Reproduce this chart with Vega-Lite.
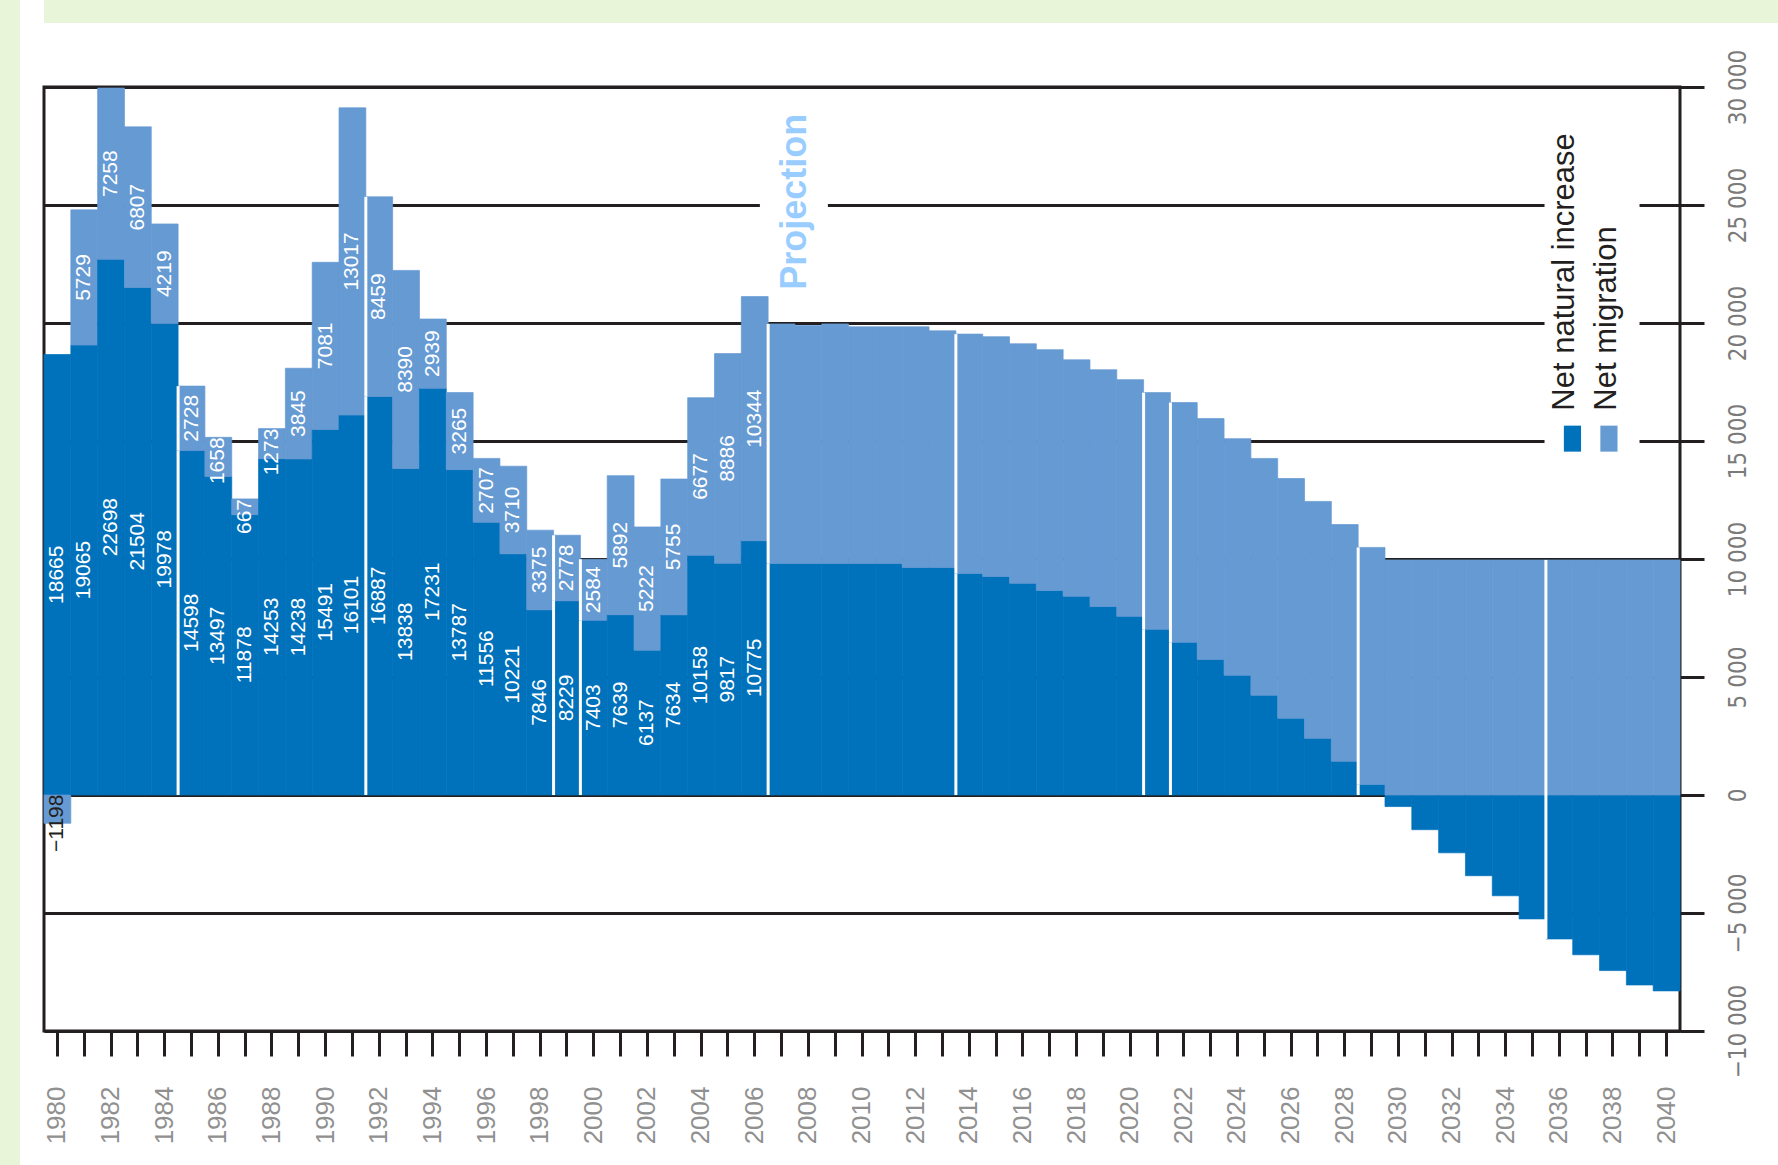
{
  "$schema": "https://vega.github.io/schema/vega-lite/v6.json",
  "background": "white",
  "padding": 0,
  "spacing": 24,
  "bounds": "flush",
  "datasets": {
    "pop": [
      {"year": 1980, "type": "natural", "value": 18665}, {"year": 1980, "type": "migration", "value": -1198},
      {"year": 1981, "type": "natural", "value": 19065}, {"year": 1981, "type": "migration", "value": 5729},
      {"year": 1982, "type": "natural", "value": 22698}, {"year": 1982, "type": "migration", "value": 7258},
      {"year": 1983, "type": "natural", "value": 21504}, {"year": 1983, "type": "migration", "value": 6807},
      {"year": 1984, "type": "natural", "value": 19978}, {"year": 1984, "type": "migration", "value": 4219},
      {"year": 1985, "type": "natural", "value": 14598}, {"year": 1985, "type": "migration", "value": 2728},
      {"year": 1986, "type": "natural", "value": 13497}, {"year": 1986, "type": "migration", "value": 1658},
      {"year": 1987, "type": "natural", "value": 11878}, {"year": 1987, "type": "migration", "value": 667},
      {"year": 1988, "type": "natural", "value": 14253}, {"year": 1988, "type": "migration", "value": 1273},
      {"year": 1989, "type": "natural", "value": 14238}, {"year": 1989, "type": "migration", "value": 3845},
      {"year": 1990, "type": "natural", "value": 15491}, {"year": 1990, "type": "migration", "value": 7081},
      {"year": 1991, "type": "natural", "value": 16101}, {"year": 1991, "type": "migration", "value": 13017},
      {"year": 1992, "type": "natural", "value": 16887}, {"year": 1992, "type": "migration", "value": 8459},
      {"year": 1993, "type": "natural", "value": 13838}, {"year": 1993, "type": "migration", "value": 8390},
      {"year": 1994, "type": "natural", "value": 17231}, {"year": 1994, "type": "migration", "value": 2939},
      {"year": 1995, "type": "natural", "value": 13787}, {"year": 1995, "type": "migration", "value": 3265},
      {"year": 1996, "type": "natural", "value": 11556}, {"year": 1996, "type": "migration", "value": 2707},
      {"year": 1997, "type": "natural", "value": 10221}, {"year": 1997, "type": "migration", "value": 3710},
      {"year": 1998, "type": "natural", "value": 7846}, {"year": 1998, "type": "migration", "value": 3375},
      {"year": 1999, "type": "natural", "value": 8229}, {"year": 1999, "type": "migration", "value": 2778},
      {"year": 2000, "type": "natural", "value": 7403}, {"year": 2000, "type": "migration", "value": 2584},
      {"year": 2001, "type": "natural", "value": 7639}, {"year": 2001, "type": "migration", "value": 5892},
      {"year": 2002, "type": "natural", "value": 6137}, {"year": 2002, "type": "migration", "value": 5222},
      {"year": 2003, "type": "natural", "value": 7634}, {"year": 2003, "type": "migration", "value": 5755},
      {"year": 2004, "type": "natural", "value": 10158}, {"year": 2004, "type": "migration", "value": 6677},
      {"year": 2005, "type": "natural", "value": 9817}, {"year": 2005, "type": "migration", "value": 8886},
      {"year": 2006, "type": "natural", "value": 10775}, {"year": 2006, "type": "migration", "value": 10344},
      {"year": 2007, "type": "natural", "value": 9810}, {"year": 2007, "type": "migration", "value": 10150},
      {"year": 2008, "type": "natural", "value": 9810}, {"year": 2008, "type": "migration", "value": 10080},
      {"year": 2009, "type": "natural", "value": 9810}, {"year": 2009, "type": "migration", "value": 10150},
      {"year": 2010, "type": "natural", "value": 9810}, {"year": 2010, "type": "migration", "value": 10030},
      {"year": 2011, "type": "natural", "value": 9810}, {"year": 2011, "type": "migration", "value": 10030},
      {"year": 2012, "type": "natural", "value": 9640}, {"year": 2012, "type": "migration", "value": 10200},
      {"year": 2013, "type": "natural", "value": 9640}, {"year": 2013, "type": "migration", "value": 10030},
      {"year": 2014, "type": "natural", "value": 9390}, {"year": 2014, "type": "migration", "value": 10140},
      {"year": 2015, "type": "natural", "value": 9260}, {"year": 2015, "type": "migration", "value": 10160},
      {"year": 2016, "type": "natural", "value": 8970}, {"year": 2016, "type": "migration", "value": 10150},
      {"year": 2017, "type": "natural", "value": 8670}, {"year": 2017, "type": "migration", "value": 10200},
      {"year": 2018, "type": "natural", "value": 8420}, {"year": 2018, "type": "migration", "value": 10020},
      {"year": 2019, "type": "natural", "value": 7990}, {"year": 2019, "type": "migration", "value": 10030},
      {"year": 2020, "type": "natural", "value": 7570}, {"year": 2020, "type": "migration", "value": 10030},
      {"year": 2021, "type": "natural", "value": 7020}, {"year": 2021, "type": "migration", "value": 10030},
      {"year": 2022, "type": "natural", "value": 6470}, {"year": 2022, "type": "migration", "value": 10160},
      {"year": 2023, "type": "natural", "value": 5745}, {"year": 2023, "type": "migration", "value": 10205},
      {"year": 2024, "type": "natural", "value": 5070}, {"year": 2024, "type": "migration", "value": 10030},
      {"year": 2025, "type": "natural", "value": 4230}, {"year": 2025, "type": "migration", "value": 10030},
      {"year": 2026, "type": "natural", "value": 3250}, {"year": 2026, "type": "migration", "value": 10160},
      {"year": 2027, "type": "natural", "value": 2400}, {"year": 2027, "type": "migration", "value": 10040},
      {"year": 2028, "type": "natural", "value": 1430}, {"year": 2028, "type": "migration", "value": 10030},
      {"year": 2029, "type": "natural", "value": 450}, {"year": 2029, "type": "migration", "value": 10040},
      {"year": 2030, "type": "natural", "value": -490}, {"year": 2030, "type": "migration", "value": 9960},
      {"year": 2031, "type": "natural", "value": -1470}, {"year": 2031, "type": "migration", "value": 9960},
      {"year": 2032, "type": "natural", "value": -2450}, {"year": 2032, "type": "migration", "value": 9960},
      {"year": 2033, "type": "natural", "value": -3420}, {"year": 2033, "type": "migration", "value": 9960},
      {"year": 2034, "type": "natural", "value": -4270}, {"year": 2034, "type": "migration", "value": 9960},
      {"year": 2035, "type": "natural", "value": -5250}, {"year": 2035, "type": "migration", "value": 9960},
      {"year": 2036, "type": "natural", "value": -6100}, {"year": 2036, "type": "migration", "value": 9960},
      {"year": 2037, "type": "natural", "value": -6770}, {"year": 2037, "type": "migration", "value": 9960},
      {"year": 2038, "type": "natural", "value": -7440}, {"year": 2038, "type": "migration", "value": 9960},
      {"year": 2039, "type": "natural", "value": -8050}, {"year": 2039, "type": "migration", "value": 9960},
      {"year": 2040, "type": "natural", "value": -8300}, {"year": 2040, "type": "migration", "value": 9960}
    ]
  },
  "hconcat": [
    {
      "width": 20,
      "height": 1165,
      "view": {"fill": "#e8f5d8", "stroke": null},
      "data": {"values": [{"a": 1}]},
      "mark": {"type": "point", "opacity": 0},
      "encoding": {}
    },
    {
      "spacing": 64,
      "bounds": "flush",
      "vconcat": [
        {
          "width": 1734,
          "height": 23,
          "view": {"fill": "#e8f5d8", "stroke": null},
          "data": {"values": [{"a": 1}]},
          "mark": {"type": "point", "opacity": 0},
          "encoding": {}
        },
        {
          "width": 1636,
          "height": 944,
          "view": {"fill": "white", "stroke": "#231f20", "strokeWidth": 3},
          "layer": [
            {
              "data": {"name": "pop"},
              "mark": {"type": "bar", "strokeWidth": 0.7},
              "encoding": {
                "x": {
                  "field": "year", "type": "ordinal",
                  "scale": {"paddingInner": 0, "paddingOuter": 0},
                  "axis": {
                    "title": null, "domain": false, "grid": false,
                    "tickSize": 25, "tickWidth": 3, "tickColor": "#231f20",
                    "labelAngle": -90, "labelAlign": "right", "labelBaseline": "middle",
                    "labelPadding": 30, "labelFontSize": 26, "labelFont": "Liberation Sans",
                    "labelColor": "#909090", "labelOverlap": false,
                    "labelExpr": "datum.value % 2 == 0 ? datum.label : ''"
                  }
                },
                "y": {
                  "field": "value", "type": "quantitative", "stack": "zero",
                  "scale": {"domain": [-10000, 30000], "nice": false, "zero": false},
                  "axis": {
                    "orient": "right", "title": null, "domain": false,
                    "grid": true, "gridColor": "#231f20", "gridWidth": 3, "gridOpacity": 1,
                    "tickColor": "#231f20", "tickWidth": 3, "tickSize": 24,
                    "values": [-10000, -5000, 0, 5000, 10000, 15000, 20000, 25000, 30000],
                    "labelAngle": -90, "labelAlign": "center", "labelBaseline": "top",
                    "labelPadding": 22, "labelFontSize": 24, "labelFlush": false,
                    "labelFont": "'Liberation Sans Narrow', 'DejaVu Sans Condensed', sans-serif",
                    "labelColor": "#7a7a7a",
                    "labelExpr": "replace(format(datum.value, ','), ',', ' ')"
                  }
                },
                "color": {
                  "field": "type", "type": "nominal",
                  "scale": {"domain": ["natural", "migration"], "range": ["#0071bb", "#669ad3"]},
                  "legend": null
                },
                "stroke": {
                  "field": "type", "type": "nominal",
                  "scale": {"domain": ["natural", "migration"], "range": ["#0071bb", "#669ad3"]},
                  "legend": null
                },
                "order": {"field": "type", "sort": "descending"}
              }
            },
            {
              "data": {"name": "pop"},
              "transform": [{"filter": {"field": "year", "oneOf": [1985, 1992, 1999, 2000, 2007, 2014, 2021, 2022, 2029, 2036]}}],
              "mark": {"type": "rule", "color": "white", "strokeWidth": 3},
              "encoding": {
                "x": {"field": "year", "type": "ordinal", "bandPosition": 0},
                "y": {"field": "value", "type": "quantitative", "stack": "zero"},
                "detail": {"field": "type"},
                "order": {"field": "type", "sort": "descending"}
              }
            },
            {
              "data": {"values": [{"a": 1}]},
              "mark": {"type": "rule", "color": "white", "strokeWidth": 68, "strokeCap": "butt"},
              "encoding": {
                "x": {"datum": 2007, "type": "ordinal", "bandPosition": 0.96},
                "y": {"datum": 24300, "type": "quantitative"},
                "y2": {"datum": 25700}
              }
            },
            {
              "data": {"values": [{"a": 1}]},
              "mark": {"type": "rule", "color": "white", "strokeWidth": 95, "strokeCap": "butt"},
              "encoding": {
                "x": {"datum": 2037, "type": "ordinal", "bandPosition": 0.72},
                "y": {"datum": 13500, "type": "quantitative"},
                "y2": {"datum": 28500}
              }
            },
            {
              "data": {"name": "pop"},
              "transform": [{"filter": "datum.year <= 2006 && datum.value > 0"}],
              "mark": {"type": "text", "angle": -90, "align": "center", "baseline": "middle", "color": "white", "fontSize": 21, "font": "Liberation Sans"},
              "encoding": {
                "x": {"field": "year", "type": "ordinal"},
                "y": {"field": "value", "type": "quantitative", "stack": "zero", "bandPosition": 0.5},
                "detail": {"field": "type"},
                "order": {"field": "type", "sort": "descending"},
                "text": {"condition": {"test": "datum.value >= 2000", "field": "value", "type": "quantitative", "format": "d"}, "value": ""}
              }
            },
            {
              "data": {"name": "pop"},
              "transform": [{"filter": "datum.year <= 2006 && datum.value > 0"}],
              "mark": {"type": "text", "angle": -90, "align": "right", "baseline": "middle", "color": "white", "fontSize": 21, "font": "Liberation Sans"},
              "encoding": {
                "x": {"field": "year", "type": "ordinal"},
                "y": {"field": "value", "type": "quantitative", "stack": "zero", "bandPosition": 1},
                "detail": {"field": "type"},
                "order": {"field": "type", "sort": "descending"},
                "text": {"condition": {"test": "datum.value < 2000", "field": "value", "type": "quantitative", "format": "d"}, "value": ""}
              }
            },
            {
              "data": {"name": "pop"},
              "transform": [{"filter": "datum.year <= 2006 && datum.value < 0"}],
              "mark": {"type": "text", "angle": -90, "align": "center", "baseline": "middle", "color": "#231f20", "fontSize": 21, "font": "Liberation Sans"},
              "encoding": {
                "x": {"field": "year", "type": "ordinal"},
                "y": {"field": "value", "type": "quantitative"},
                "text": {"field": "value", "type": "quantitative", "format": "d"}
              }
            },
            {
              "data": {"values": [{"a": 1}]},
              "mark": {"type": "text", "text": "Projection", "angle": -90, "align": "left", "baseline": "alphabetic", "fontSize": 36, "fontWeight": "bold", "font": "Liberation Sans", "color": "#99ccff"},
              "encoding": {
                "x": {"datum": 2008, "type": "ordinal", "bandPosition": 0.4},
                "y": {"datum": 21410, "type": "quantitative"}
              }
            },
            {
              "data": {"values": [{"a": 1}]},
              "mark": {"type": "text", "text": "Net natural increase", "angle": -90, "align": "left", "baseline": "alphabetic", "fontSize": 31, "font": "Liberation Sans", "color": "#231f20"},
              "encoding": {
                "x": {"datum": 2037, "type": "ordinal", "bandPosition": 0.05},
                "y": {"datum": 16287, "type": "quantitative"}
              }
            },
            {
              "data": {"values": [{"a": 1}]},
              "mark": {"type": "text", "text": "Net migration", "angle": -90, "align": "left", "baseline": "alphabetic", "fontSize": 31, "font": "Liberation Sans", "color": "#231f20"},
              "encoding": {
                "x": {"datum": 2038, "type": "ordinal", "bandPosition": 0.6},
                "y": {"datum": 16287, "type": "quantitative"}
              }
            },
            {
              "data": {"values": [{"a": 1}]},
              "mark": {"type": "point", "shape": "M-0.66,-1H0.66V1H-0.66Z", "size": 676, "filled": true, "opacity": 1, "strokeWidth": 0, "color": "#0071bb"},
              "encoding": {
                "x": {"datum": 2036, "type": "ordinal", "bandPosition": 0.99},
                "y": {"datum": 15100, "type": "quantitative"}
              }
            },
            {
              "data": {"values": [{"a": 1}]},
              "mark": {"type": "point", "shape": "M-0.66,-1H0.66V1H-0.66Z", "size": 676, "filled": true, "opacity": 1, "strokeWidth": 0, "color": "#669ad3"},
              "encoding": {
                "x": {"datum": 2038, "type": "ordinal", "bandPosition": 0.35},
                "y": {"datum": 15100, "type": "quantitative"}
              }
            }
          ]
        }
      ]
    }
  ]
}
